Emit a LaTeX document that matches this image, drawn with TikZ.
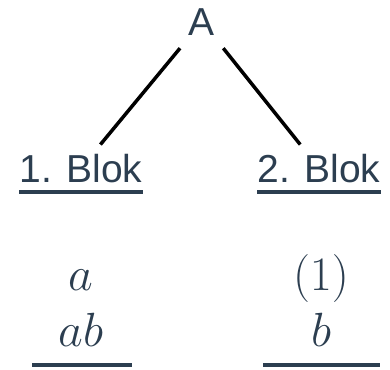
\RequirePackage{fix-cm}
\documentclass[tikz,border=0pt]{standalone}
\usepackage[no-math]{fontspec}
\usepackage{xcolor}
\usepackage{tikz}
\usetikzlibrary{positioning}
\newfontfamily\blokfont{Liberation Sans}
\definecolor{slate}{HTML}{2C3E50}
\tikzset{
  head/.style={font=\blokfont\fontsize{39}{44}\selectfont,text=slate,inner sep=13pt},
  blok/.style={font=\blokfont\fontsize{39}{44}\selectfont,text=slate,inner xsep=0pt,inner ysep=9pt},
  term/.style={font=\fontsize{48}{56}\selectfont,text=slate,inner sep=0pt},
  branch/.style={line width=3.5pt,black},
  uline/.style={line width=3.5pt,slate},
}
\begin{document}
\begin{tikzpicture}[x=1pt,y=1pt]
\useasboundingbox (0,0) rectangle (390,-369);
% root and the two blocks
\node[head,anchor=base] (A) at (202,-35) {A};
\node[blok,anchor=base] (b1) at (81,-182) {1. Blok};
\node[blok,anchor=base] (b2) at (319,-182) {2. Blok};
\draw[branch] (A) -- (b1);
\draw[branch] (A) -- (b2);
\draw[uline] ([yshift=-10]b1.base west) -- ([yshift=-10]b1.base east);
\draw[uline] ([yshift=-10]b2.base west) -- ([yshift=-10]b2.base east);
% contents of the blocks
\node[term,anchor=base] (t1) at (81,-290) {$a$};
\node[term,anchor=base] (t2) at (81,-346) {$ab$};
\node[term,anchor=base] (t3) at (321,-290) {$(1)$};
\node[term,anchor=base] (t4) at (321,-346) {$b$};
\coordinate (r1a) at (32,-365);
\coordinate (r1b) at (132,-365);
\coordinate (r2a) at (263,-365);
\coordinate (r2b) at (380,-365);
\draw[uline] (r1a) -- (r1b);
\draw[uline] (r2a) -- (r2b);
\end{tikzpicture}
\end{document}
